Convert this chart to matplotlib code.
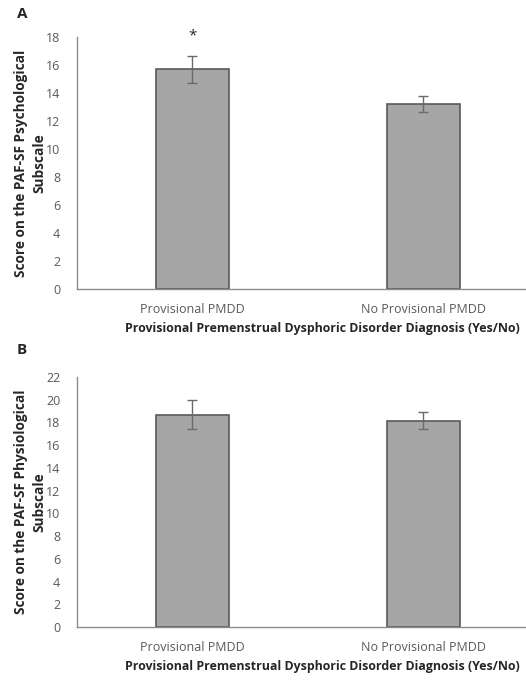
import matplotlib
matplotlib.use("Agg")
import matplotlib.pyplot as plt

categories = ["Provisional PMDD", "No Provisional PMDD"]
psych_means = [15.7, 13.2]
psych_err = [0.95, 0.57]
phys_means = [18.7, 18.15]
phys_err = [1.3, 0.76]
psych_ticks = list(range(0, 19, 2))
phys_ticks = list(range(0, 23, 2))

plt.rcParams['font.family'] = ['Open Sans', 'DejaVu Sans']

fig = plt.figure(figsize=(5.26, 6.81), dpi=100)

bar_fc = "#a6a6a6"
bar_ec = "#5a5a5a"
spine_c = "#8c8c8c"
text_c = "#595959"

def panel(rect, means, errs, ticks, ylabel, star):
    ax = fig.add_axes(rect)
    x = list(range(len(categories)))
    ax.bar(x, means, width=0.315, color=bar_fc, edgecolor=bar_ec, linewidth=1.2, zorder=2)
    ax.errorbar(x, means, yerr=errs, fmt='none', ecolor="#6a6a6a", elinewidth=1.0,
                capsize=3.5, capthick=1.0, zorder=3)
    ax.set_xlim(-0.5, 1.445)
    ax.set_ylim(0, ticks[-1])
    ax.set_yticks(ticks)
    ax.set_xticks(x)
    ax.set_xticklabels(categories, fontsize=9, color=text_c)
    ax.tick_params(axis='both', length=0, colors=text_c, labelsize=9)
    ax.tick_params(axis='x', pad=10)
    ax.tick_params(axis='y', pad=12)
    for s in ['top', 'right']:
        ax.spines[s].set_visible(False)
    for s in ['left', 'bottom']:
        ax.spines[s].set_color(spine_c)
        ax.spines[s].set_linewidth(1.0)
    ax.set_xlabel("Provisional Premenstrual Dysphoric Disorder Diagnosis (Yes/No)",
                  fontsize=8.9, fontweight='bold', color="#262626")
    ax.xaxis.set_label_coords((322 - rect[0] * 526) / (rect[2] * 526), -33 / (rect[3] * 681))
    ax.set_ylabel(ylabel, fontsize=9.8, fontweight='bold', color="#262626",
                  linespacing=1.35)
    ax.yaxis.set_label_coords(-(77 - 46) / (rect[2] * 526), 0.5)
    if star:
        ax.text(0, means[0] + errs[0] + 1.4, "*", ha='center', va='center',
                fontsize=11, color="#262626", clip_on=False)
    return ax

panel([0.1464, 0.5756, 0.8536, 0.370], psych_means, psych_err, psych_ticks,
      "Score on the PAF-SF Psychological\nSubscale", True)
panel([0.1464, 0.0793, 0.8536, 0.3671], phys_means, phys_err, phys_ticks,
      "Score on the PAF-SF Physiological\nSubscale", False)

fig.text(17/526, 1 - 14/681, "A", fontsize=11, fontweight='bold', color="#262626",
         ha='left', va='center')
fig.text(17/526, 1 - 350/681, "B", fontsize=11, fontweight='bold', color="#262626",
         ha='left', va='center')

fig.savefig("out.png", dpi=100, facecolor='white')
